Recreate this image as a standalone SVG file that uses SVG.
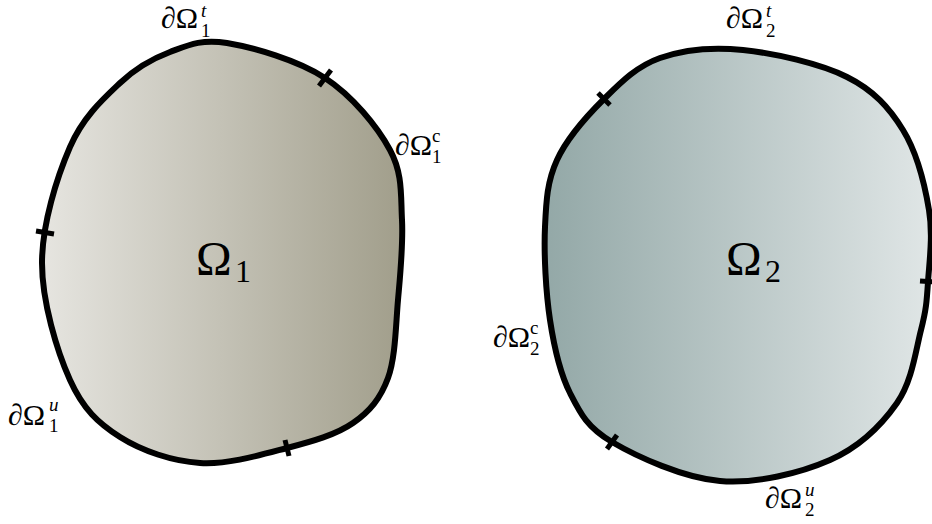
<svg xmlns="http://www.w3.org/2000/svg" width="932" height="524" viewBox="0 0 932 524">
<defs>
<linearGradient id="g1" x1="0" y1="0" x2="1" y2="0">
<stop offset="0" stop-color="#e6e5e0"/>
<stop offset="1" stop-color="#a19e8b"/>
</linearGradient>
<linearGradient id="g2" x1="0" y1="0" x2="1" y2="0">
<stop offset="0" stop-color="#93a8a7"/>
<stop offset="1" stop-color="#e0e6e6"/>
</linearGradient>
<style>
.shape{stroke:#000;stroke-width:6;stroke-linejoin:round}
.tick{stroke:#000;stroke-width:5;fill:none}
text{font-family:"Liberation Serif","Times New Roman",serif;fill:#000}
.lbl{font-size:30px}
.sm{font-size:19px}
.big{font-size:48px}
.bigsub{font-size:32px}
.it{font-style:italic}
</style>
</defs>
<g id="omega1">
<path class="shape" fill="url(#g1)" d="M227,43 C252.8,47.3 297.8,60.2 325,78 C352.2,95.8 377.2,126.3 390,150 C402.8,173.7 400.7,195 402,220 C403.3,245 400.3,273.7 398,300 C395.7,326.3 395.5,357.5 388,378 C380.5,398.5 369.8,411.3 353,423 C336.2,434.7 312.5,441.3 287,448 C261.5,454.7 227.8,464.8 200,463 C172.2,461.2 141.7,450.8 120,437 C98.3,423.2 83,409 70,380 C57,351 42,301.8 42,263 C42,224.2 57,177 70,147 C83,117 103.3,98.8 120,83 C136.7,67.2 152.2,58.7 170,52 C187.8,45.3 201.2,38.7 227,43 Z"/>
<line class="tick" x1="319" y1="86" x2="331" y2="70"/>
<line class="tick" x1="285" y1="440" x2="289" y2="456"/>
<line class="tick" x1="36" y1="231" x2="54" y2="234"/>
<text class="big" x="196" y="275">Ω<tspan class="bigsub" x="235" y="282">1</tspan></text>
</g>
<g id="omega2">
<path class="shape" fill="url(#g2)" d="M743,50 C774.2,53.2 820.3,63.7 847,77 C873.7,90.3 889.3,107.8 903,130 C916.7,152.2 924.8,184.7 929,210 C933.2,235.3 929.3,262 928,282 C926.7,302 926.2,309.8 921,330 C915.8,350.2 912.2,381.3 897,403 C881.8,424.7 859.5,447 830,460 C800.5,473 756.3,484 720,481 C683.7,478 637,456.7 612,442 C587,427.3 580.3,413.3 570,393 C559.7,372.7 554.2,347.7 550,320 C545.8,292.3 543.8,253.7 545,227 C546.2,200.3 547.2,181.3 557,160 C566.8,138.7 586.8,116 604,99 C621.2,82 636.8,66.2 660,58 C683.2,49.8 711.8,46.8 743,50 Z"/>
<line class="tick" x1="598" y1="93" x2="610" y2="105"/>
<line class="tick" x1="607" y1="449" x2="617" y2="435"/>
<line class="tick" x1="920" y1="281" x2="936" y2="282"/>
<text class="big" x="726" y="275">Ω<tspan class="bigsub" x="765" y="282">2</tspan></text>
</g>
<g id="labels">
<text class="lbl" x="161" y="28">∂Ω<tspan class="sm it" x="201" y="17">t</tspan><tspan class="sm" x="201" y="37">1</tspan></text>
<text class="lbl" x="395" y="155">∂Ω<tspan class="sm" x="432" y="142">c</tspan><tspan class="sm" x="432" y="163">1</tspan></text>
<text class="lbl" x="8" y="425">∂Ω<tspan class="sm it" x="49" y="411">u</tspan><tspan class="sm" x="49" y="432">1</tspan></text>
<text class="lbl" x="726" y="28">∂Ω<tspan class="sm it" x="766" y="17">t</tspan><tspan class="sm" x="766" y="37">2</tspan></text>
<text class="lbl" x="493" y="347">∂Ω<tspan class="sm" x="530" y="334">c</tspan><tspan class="sm" x="530" y="355">2</tspan></text>
<text class="lbl" x="765" y="508">∂Ω<tspan class="sm it" x="805" y="496">u</tspan><tspan class="sm" x="805" y="516">2</tspan></text>
</g>
</svg>
